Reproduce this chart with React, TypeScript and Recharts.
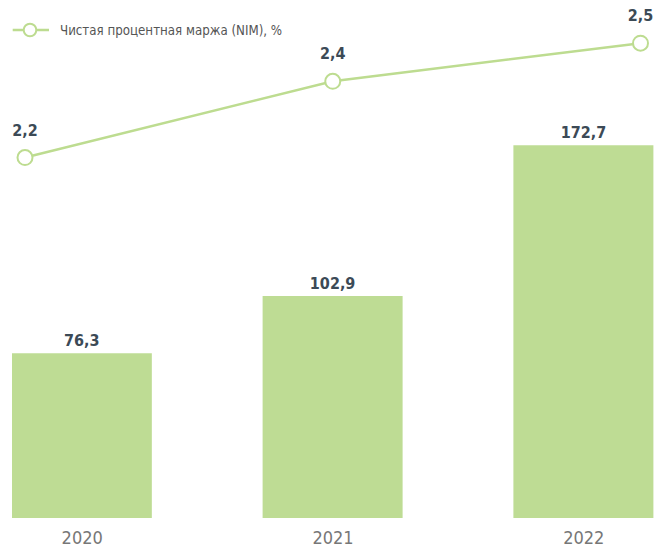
import React from 'react';
import { ComposedChart, Bar, Line, XAxis, YAxis, LabelList, Legend } from 'recharts';

const years = ['2020', '2021', '2022'];
const volumes = [76.3, 102.9, 172.7];
const nimValues = [2.2, 2.4, 2.5];
const legendLabel = 'Чистая процентная маржа (NIM), %';

const data = years.map((year, i) => ({ i, year, volume: volumes[i], nim: nimValues[i] }));

const GREEN = '#bedc94';
const LINE_GREEN = '#bddc90';
const LABEL_COLOR = '#3c4a56';
const FONT = "'DejaVu Sans Condensed', 'DejaVu Sans', sans-serif";

const fmt = (v: any) => Number(v).toFixed(1).replace('.', ',');

const LegendContent = () => (
  <svg width={320} height={20} style={{ display: 'block' }}>
    <line x1={4.7} y1={10} x2={41} y2={10} stroke={LINE_GREEN} strokeWidth={2.5} />
    <circle cx={22} cy={10} r={6.3} fill="#fff" stroke={LINE_GREEN} strokeWidth={2} />
    <text x={52} y={10} dominantBaseline="central" fontSize={13.2} fill="#555" fontFamily={FONT}>
      {legendLabel}
    </text>
  </svg>
);

export default function App() {
  return (
    <div style={{ position: 'absolute', left: 0, top: 0, width: 655, height: 547, overflow: 'hidden' }}>
      <ComposedChart width={655} height={547} data={data} margin={{ top: 0, right: 1, bottom: 0, left: 12 }}>
        <XAxis
          xAxisId="bar"
          dataKey="i"
          type="number"
          domain={[-0.28, 2.28]}
          allowDataOverflow
          ticks={[0, 1, 2]}
          tickFormatter={(v: any) => years[v] ?? ''}
          axisLine={false}
          tickLine={false}
          tickMargin={7}
          height={29}
          interval={0}
          tick={{ fill: '#777', fontSize: 18, fontFamily: FONT }}
        />
        <XAxis
          xAxisId="line"
          dataKey="i"
          type="number"
          domain={[-0.04224, 2.04387]}
          allowDataOverflow
          hide
        />
        <YAxis yAxisId="bar" type="number" domain={[0, 240.0]} allowDataOverflow hide />
        <YAxis yAxisId="line" type="number" domain={[1.255, 2.6131]} allowDataOverflow hide />
        <Legend
          layout="vertical"
          align="center"
          verticalAlign="middle"
          content={() => <LegendContent />}
          wrapperStyle={{ top: 19.5, left: 8, width: 320, height: 20 }}
        />
        <Bar xAxisId="bar" yAxisId="bar" dataKey="volume" fill={GREEN} barSize={140} isAnimationActive={false}>
          <LabelList
            dataKey="volume"
            position="top"
            offset={7}
            formatter={fmt}
            fill={LABEL_COLOR}
            fontSize={16}
            fontWeight="bold"
            fontFamily={FONT}
          />
        </Bar>
        <Line
          xAxisId="line"
          yAxisId="line"
          dataKey="nim"
          type="linear"
          stroke={LINE_GREEN}
          strokeWidth={2.5}
          dot={{ r: 7.5, fill: '#fff', stroke: LINE_GREEN, strokeWidth: 2 }}
          isAnimationActive={false}
        >
          <LabelList
            dataKey="nim"
            position="top"
            offset={22}
            formatter={fmt}
            fill={LABEL_COLOR}
            fontSize={16}
            fontWeight="bold"
            fontFamily={FONT}
          />
        </Line>
      </ComposedChart>
    </div>
  );
}
